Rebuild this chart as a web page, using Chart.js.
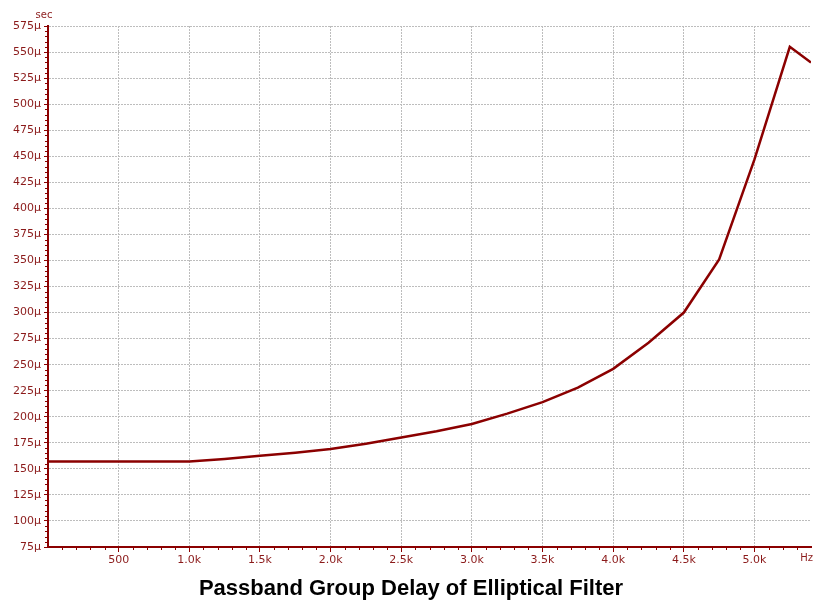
<!DOCTYPE html>
<html>
<head>
<meta charset="utf-8">
<script src="https://cdn.jsdelivr.net/npm/chart.js@4"></script>
<style>
  html, body { margin: 0; padding: 0; background: #fff; }
  #wrap { width: 817px; height: 605px; }
</style>
</head>
<body>
<div id="wrap"><canvas id="delayChart" width="817" height="605"></canvas></div>
<script>
// frequency points (Hz) and group delay (microseconds)
const freqHz = [0, 250, 500, 750, 1000, 1250, 1500, 1750, 2000, 2250, 2500, 2750, 3000, 3250, 3500, 3750, 4000, 4250, 4500, 4750, 5000, 5250, 5400];
const delayUs = [157, 157, 157, 157, 157, 159.5, 162.5, 165.5, 169, 174, 180, 186, 193, 203, 214, 228, 246, 271, 300, 351, 447, 555, 540];

const xTicks = [500, 1000, 1500, 2000, 2500, 3000, 3500, 4000, 4500, 5000];
const yTicks = [75, 100, 125, 150, 175, 200, 225, 250, 275, 300, 325, 350, 375, 400, 425, 450, 475, 500, 525, 550, 575];

const RED = "#8b0000";
const LABEL = "#8b1a1a";

// petits tirets mineurs + textes "sec", "Hz" et titre
const extras = {
  id: "extras",
  afterDraw(chart) {
    const ctx = chart.ctx;
    const x = chart.scales.x, y = chart.scales.y;
    const area = chart.chartArea;
    ctx.save();
    ctx.strokeStyle = RED;
    ctx.lineWidth = 1;
    ctx.beginPath();
    for (let f = 100; f < 5400; f += 100) {
      if (f % 500 === 0) continue;
      const px = Math.round(x.getPixelForValue(f)) + 0.5;
      ctx.moveTo(px, area.bottom);
      ctx.lineTo(px, area.bottom + 3);
    }
    for (let v = 80; v < 575; v += 5) {
      if (v % 25 === 0) continue;
      const py = Math.round(y.getPixelForValue(v)) + 0.5;
      ctx.moveTo(area.left - 3, py);
      ctx.lineTo(area.left, py);
    }
    ctx.stroke();

    ctx.fillStyle = LABEL;
    ctx.font = "10px 'DejaVu Sans'";
    ctx.textBaseline = "middle";
    ctx.textAlign = "center";
    ctx.fillText("sec", 44, 15);
    ctx.textAlign = "right";
    ctx.fillText("Hz", 813, 558);

    ctx.fillStyle = "#000";
    ctx.font = "bold 22px 'Liberation Sans'";
    ctx.textAlign = "center";
    ctx.fillText("Passband Group Delay of Elliptical Filter", 411, 589);
    ctx.restore();
  }
};

new Chart(document.getElementById("delayChart"), {
  type: "line",
  data: {
    datasets: [{
      data: freqHz.map((f, i) => ({ x: f, y: delayUs[i] })),
      borderColor: RED,
      borderWidth: 2.5,
      pointRadius: 0,
      tension: 0,
      fill: false
    }]
  },
  options: {
    responsive: false,
    animation: false,
    layout: { padding: { top: 26, right: 6, left: 0, bottom: 0 } },
    plugins: { legend: { display: false }, tooltip: { enabled: false }, title: { display: false } },
    scales: {
      x: {
        type: "linear",
        min: 0,
        max: 5400,
        afterFit: (s) => { s.height = 58; },
        afterBuildTicks: (s) => { s.ticks = xTicks.map(v => ({ value: v })); },
        ticks: {
          autoSkip: false,
          maxRotation: 0,
          color: LABEL,
          padding: 2,
          font: { family: "DejaVu Sans", size: 11 },
          callback: (v) => v < 1000 ? String(v) : (v / 1000).toFixed(1) + "k"
        },
        grid: { color: "#bdbdbd", tickColor: RED, tickLength: 5, drawTicks: true },
        border: { color: RED, width: 2, dash: [2, 1] }
      },
      y: {
        min: 75,
        max: 575,
        afterFit: (s) => { s.width = 48; },
        afterBuildTicks: (s) => { s.ticks = yTicks.map(v => ({ value: v })); },
        ticks: {
          autoSkip: false,
          color: LABEL,
          padding: 3,
          font: { family: "DejaVu Sans", size: 11 },
          callback: (v) => v + "μ"
        },
        grid: { color: "#bdbdbd", tickColor: RED, tickLength: 4, drawTicks: true },
        border: { color: RED, width: 2, dash: [2, 1] }
      }
    }
  },
  plugins: [extras]
});
</script>
</body>
</html>
